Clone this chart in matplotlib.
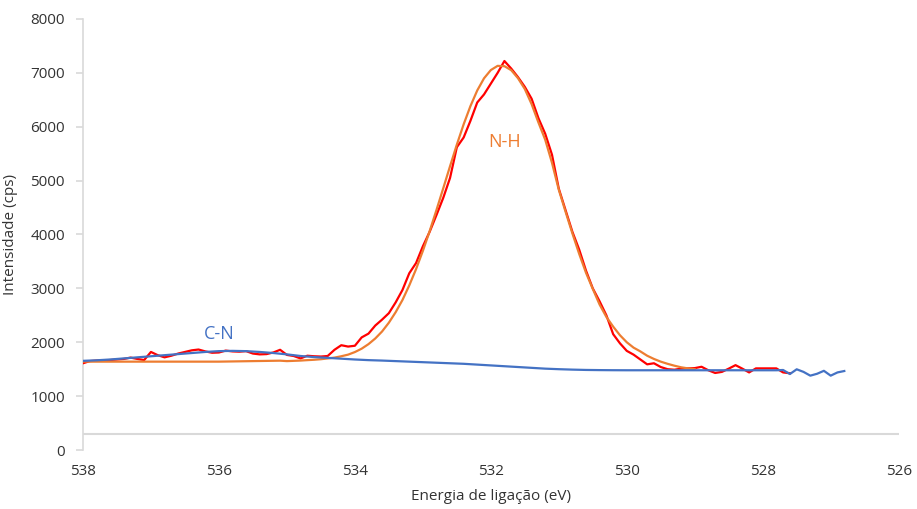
import numpy as np
import matplotlib.pyplot as plt

# energia (eV) e intensidades
e_red = np.round(np.arange(538.0, 527.55, -0.1), 1)
i_red = [1610, 1650, 1660, 1665, 1670, 1680, 1690, 1715, 1690, 1670,
         1820, 1760, 1720, 1750, 1790, 1820, 1850, 1865, 1830, 1805,
         1810, 1845, 1830, 1825, 1835, 1790, 1775, 1780, 1810, 1860,
         1765, 1745, 1700, 1750, 1740, 1735, 1745, 1860, 1945, 1920,
         1935, 2090, 2160, 2310, 2420, 2540, 2740, 2970, 3280, 3470,
         3780, 4050, 4360, 4680, 5050, 5620, 5800, 6110, 6450, 6600,
         6800, 7000, 7220, 7080, 6920, 6740, 6520, 6160, 5870, 5480,
         4850, 4450, 4050, 3720, 3330, 3000, 2760, 2500, 2150, 1980,
         1840, 1770, 1680, 1590, 1610, 1540, 1500, 1490, 1510, 1515,
         1520, 1545, 1480, 1430, 1450, 1510, 1575, 1510, 1440, 1515,
         1515, 1515, 1515, 1440, 1425]

e_nh = np.round(np.arange(538.0, 528.95, -0.1), 1)
i_nh = [1640, 1640, 1640, 1640, 1640, 1640, 1640, 1640, 1640, 1640,
        1640, 1640, 1640, 1640, 1640, 1640, 1640, 1640, 1640, 1640,
        1640, 1642, 1644, 1646, 1648, 1650, 1652, 1654, 1656, 1658,
        1650, 1655, 1660, 1668, 1675, 1685, 1700, 1715, 1740, 1770,
        1818, 1881, 1965, 2070, 2200, 2363, 2558, 2784, 3055, 3357,
        3695, 4062, 4453, 4858, 5267, 5668, 6044, 6383, 6673, 6899,
        7052, 7130, 7124, 7050, 6900, 6700, 6420, 6080, 5760, 5330,
        4830, 4420, 4020, 3640, 3290, 2990, 2700, 2470, 2290, 2130,
        2000, 1900, 1830, 1750, 1690, 1640, 1600, 1565, 1535, 1515,
        1500]

e_cn = [538.0, 537.8, 537.6, 537.4, 537.2, 537.0, 536.8, 536.6, 536.4, 536.2,
        536.0, 535.8, 535.6, 535.4, 535.2, 535.0, 534.8, 534.6, 534.4, 534.2,
        534.0, 533.8, 533.6, 533.4, 533.2, 533.0, 532.8, 532.6, 532.4, 532.2,
        532.0, 531.8, 531.6, 531.4, 531.2, 531.0, 530.8, 530.6, 530.4, 530.2,
        530.0, 529.5, 529.0, 528.5, 528.0, 527.8, 527.7, 527.6, 527.5, 527.4,
        527.3, 527.2, 527.1, 527.0, 526.9, 526.8]
i_cn = [1655, 1665, 1680, 1700, 1720, 1740, 1760, 1780, 1800, 1820,
        1835, 1840, 1835, 1820, 1800, 1775, 1745, 1725, 1710, 1695,
        1680, 1668, 1660, 1650, 1640, 1630, 1620, 1610, 1600, 1585,
        1570, 1555, 1540, 1525, 1510, 1500, 1492, 1486, 1483, 1481,
        1480, 1480, 1480, 1480, 1480, 1480, 1485, 1410, 1498, 1450,
        1380, 1415, 1470, 1380, 1440, 1466]

plt.rcParams['font.family'] = ['Open Sans', 'DejaVu Sans']

fig = plt.figure(figsize=(9.17, 5.09), dpi=100)
ax = fig.add_axes([0.0905, 0.1159, 0.8895, 0.8468])

ax.axhline(290, color='#D9D9D9', lw=1.5, zorder=1)
ax.plot(e_red, i_red, color='#FF0000', lw=1.6, zorder=3)
ax.plot(e_nh, i_nh, color='#ED7D31', lw=1.6, zorder=4)
ax.plot(e_cn, i_cn, color='#4472C4', lw=1.6, zorder=5)

ax.text(536.0, 2150, 'C-N', color='#4472C4', fontsize=13, ha='center', va='center')
ax.text(531.8, 5720, 'N-H', color='#ED7D31', fontsize=13, ha='center', va='center')

ax.set_xlim(538, 526)
ax.set_ylim(0, 8000)
ax.set_xticks([538, 536, 534, 532, 530, 528, 526])
ax.set_yticks(range(0, 8001, 1000))

for s in ['top', 'right', 'bottom']:
    ax.spines[s].set_visible(False)
ax.spines['left'].set_color('#D9D9D9')
ax.spines['left'].set_linewidth(1.2)
ax.tick_params(axis='y', length=5, width=1.2, color='#D9D9D9', pad=8,
               labelsize=11, labelcolor='#333333')
ax.tick_params(axis='x', length=0, pad=10, labelsize=11, labelcolor='#333333')

ax.set_xlabel('Energia de ligação (eV)', fontsize=11, color='#333333', labelpad=7)
ax.set_ylabel('Intensidade (cps)', fontsize=11, color='#333333', labelpad=9)

fig.savefig('out.png', dpi=100)
